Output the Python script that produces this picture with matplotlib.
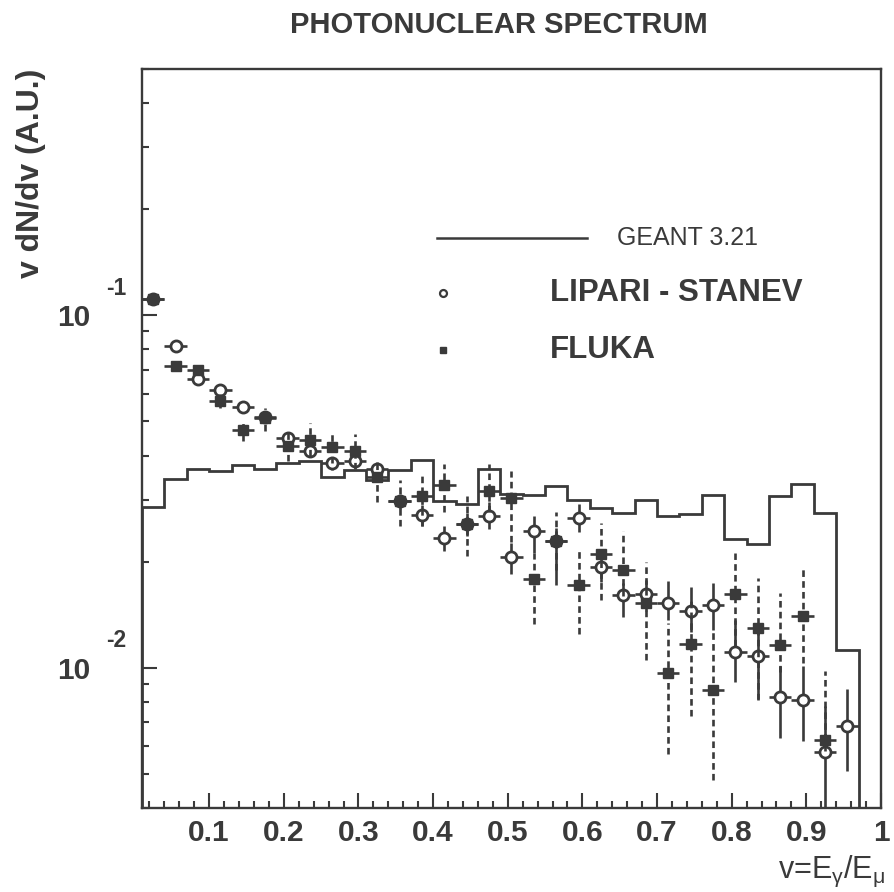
import numpy as np
import matplotlib
matplotlib.use("Agg")
import matplotlib.pyplot as plt
from matplotlib.ticker import FixedLocator, MultipleLocator, LogLocator, NullFormatter
from matplotlib.transforms import blended_transform_factory

plt.rcParams['font.family'] = ['Liberation Sans', 'DejaVu Sans']
plt.rcParams['mathtext.fontset'] = 'custom'
plt.rcParams['mathtext.rm'] = 'Liberation Sans'
plt.rcParams['mathtext.it'] = 'Liberation Sans'
plt.rcParams['mathtext.bf'] = 'Liberation Sans:bold'

ink = '#3a3a3a'

# GEANT 3.21 histogram, bins of 0.03 from 0.01 to 0.97
bin_edges = np.round(np.arange(0.01, 0.9701, 0.03), 3)
geant = [0.0286, 0.0343, 0.0367, 0.0361, 0.0375, 0.0367, 0.0380, 0.0386,
         0.0348, 0.0363, 0.0340, 0.0363, 0.0388, 0.0298, 0.0292, 0.0367,
         0.0311, 0.0310, 0.0327, 0.0299, 0.0284, 0.0275, 0.0300, 0.0269,
         0.0273, 0.0310, 0.0232, 0.0225, 0.0308, 0.0333, 0.0275, 0.01125]

# bin centres
nu = np.round(bin_edges[:-1] + 0.015, 3)

# LIPARI - STANEV
lipari = [0.111, 0.0818, 0.0661, 0.0614, 0.0550, 0.0515, 0.0449, 0.0413,
          0.0380, 0.0386, 0.0366, 0.0297, 0.0272, 0.0234, 0.0255, 0.0270,
          0.0206, 0.0244, 0.0229, 0.0266, 0.0193, 0.0161, 0.0162, 0.0153,
          0.0145, 0.0151, 0.0111, 0.0108, 0.00825, 0.0081, 0.00575, 0.00684]
lipari_hi = [0.114, 0.0840, 0.0680, 0.0630, 0.0566, 0.0530, 0.0465, 0.0428,
             0.0395, 0.0402, 0.0384, 0.0312, 0.0290, 0.0252, 0.0275, 0.0295,
             0.0226, 0.0269, 0.0250, 0.0292, 0.0212, 0.0174, 0.0178, 0.0176,
             0.0169, 0.0174, 0.0137, 0.0132, 0.0101, 0.0101, 0.0078, 0.0087]
lipari_lo = [0.108, 0.0797, 0.0640, 0.0598, 0.0535, 0.0500, 0.0433, 0.0398,
             0.0365, 0.0370, 0.0349, 0.0283, 0.0252, 0.0214, 0.0236, 0.0247,
             0.0184, 0.0212, 0.0172, 0.0242, 0.0175, 0.0139, 0.0145, 0.0137,
             0.0126, 0.0128, 0.0091, 0.00813, 0.0063, 0.0062, 0.0035, 0.0051]

# FLUKA
fluka = [0.1115, 0.0718, 0.0699, 0.0571, 0.0474, 0.0510, 0.0427, 0.0444,
         0.0424, 0.0412, 0.0347, 0.0297, 0.0308, 0.0331, 0.0255, 0.0317,
         0.0303, 0.0179, 0.0229, 0.0172, 0.0210, 0.0190, 0.0153, 0.00966,
         0.0117, 0.00866, 0.0162, 0.0130, 0.0116, 0.0140, 0.00625]
fluka_hi = [0.1145, 0.0738, 0.0725, 0.0598, 0.0501, 0.0547, 0.0475, 0.0494,
            0.0470, 0.0462, 0.0390, 0.0342, 0.0354, 0.0378, 0.0307, 0.0378,
            0.0361, 0.0212, 0.0276, 0.0219, 0.0258, 0.0244, 0.0199, 0.0134,
            0.0155, 0.0128, 0.0212, 0.0180, 0.0163, 0.0194, 0.0098]
fluka_lo = [0.1085, 0.0698, 0.0675, 0.0546, 0.0440, 0.0470, 0.0385, 0.0398,
            0.0380, 0.0366, 0.0295, 0.0252, 0.0252, 0.0276, 0.0207, 0.0276,
            0.0228, 0.0133, 0.0190, 0.0125, 0.0156, 0.0160, 0.0105, 0.0057,
            0.0073, 0.0048, 0.0115, 0.0081, 0.0097, 0.0103, 0.0058]

y_ticks = [0.01, 0.1]
y_exponents = ['-2', '-1']

fig = plt.figure(figsize=(8.95, 8.92), dpi=100)
ax = fig.add_axes([142 / 895, 84 / 892, 739 / 895, 739 / 892])

ax.stairs(geant, bin_edges, baseline=1e-4, color=ink, lw=2.0, zorder=2)

lip = np.array(lipari)
lip_err = [lip - np.array(lipari_lo), np.array(lipari_hi) - lip]
eb = ax.errorbar(nu, lip, xerr=0.015, yerr=lip_err, fmt='o', ms=8,
                 mfc='white', mec=ink, mew=2.0, ecolor=ink, elinewidth=1.9,
                 capsize=0, zorder=3)

n_fl = len(fluka)
fl = np.array(fluka)
fl_err = [fl - np.array(fluka_lo), np.array(fluka_hi) - fl]
eb2 = ax.errorbar(nu[:n_fl], fl, xerr=0.015, yerr=fl_err, fmt='s', ms=7.5,
                  mfc=ink, mec=ink, ecolor=ink, elinewidth=1.9,
                  capsize=0, zorder=4)
eb2.lines[2][1].set_linestyle((0, (2.5, 1.6)))

ax.set_yscale('log')
ax.set_xlim(0.01, 1.0)
ax.set_ylim(0.004, 0.5)

ax.xaxis.set_major_locator(FixedLocator([0.1, 0.2, 0.3, 0.4, 0.5, 0.6, 0.7, 0.8, 0.9, 1.0]))
ax.set_xticklabels(['0.1', '0.2', '0.3', '0.4', '0.5', '0.6', '0.7', '0.8', '0.9', '1'])
ax.xaxis.set_minor_locator(MultipleLocator(0.02))
ax.yaxis.set_major_locator(FixedLocator(y_ticks))
ax.set_yticklabels(['10'] * len(y_ticks))
ax.yaxis.set_minor_locator(LogLocator(base=10, subs=np.arange(2, 10)))
ax.yaxis.set_minor_formatter(NullFormatter())

ax.tick_params(which='both', direction='in', top=False, right=False,
               color=ink, width=1.5, labelcolor=ink)
ax.tick_params(which='major', length=11, labelsize=21.5)
ax.tick_params(which='minor', length=5)
ax.tick_params(axis='x', pad=8)
ax.tick_params(axis='y', pad=37)
for lab in ax.get_xticklabels() + ax.get_yticklabels():
    lab.set_fontweight('bold')

# PAW style exponents, set apart from the "10"
trans = blended_transform_factory(ax.transAxes, ax.transData)
for yt, ex in zip(y_ticks, y_exponents):
    ax.annotate(ex, xy=(-0.049, yt), xycoords=trans, xytext=(0, 19.5),
                textcoords='offset points', ha='left', va='center',
                fontsize=16.5, fontweight='bold', color=ink, annotation_clip=False)

for sp in ax.spines.values():
    sp.set_linewidth(1.7)
    sp.set_color(ink)

ax.set_ylabel('v dN/dv (A.U.)', fontsize=23, fontweight='bold', color=ink, loc='top')
ax.yaxis.set_label_coords(-0.13, 1.0)
ax.set_xlabel(r'v=E$_{\gamma}$/E$_{\mu}$', fontsize=22, color=ink, loc='right')
ax.xaxis.set_label_coords(1.006, -0.062)

fig.text(0.557, 0.972, 'PHOTONUCLEAR SPECTRUM', ha='center', va='center',
         fontsize=21, fontweight='bold', color=ink)

# legend drawn PAW style
ax.plot([0.399, 0.602], [0.771, 0.771], transform=ax.transAxes, color=ink, lw=1.8)
ax.text(0.643, 0.771, 'GEANT 3.21', transform=ax.transAxes, fontsize=18,
        va='center', ha='left', color=ink)
ax.plot([0.407], [0.697], 'o', transform=ax.transAxes, ms=5, mfc='white',
        mec=ink, mew=1.6)
ax.text(0.552, 0.697, 'LIPARI - STANEV', transform=ax.transAxes, fontsize=22.5,
        fontweight='bold', va='center', ha='left', color=ink)
ax.plot([0.407], [0.620], 's', transform=ax.transAxes, ms=5, mfc=ink, mec=ink)
ax.text(0.552, 0.620, 'FLUKA', transform=ax.transAxes, fontsize=22.5,
        fontweight='bold', va='center', ha='left', color=ink)

fig.savefig('out.png', dpi=100)
